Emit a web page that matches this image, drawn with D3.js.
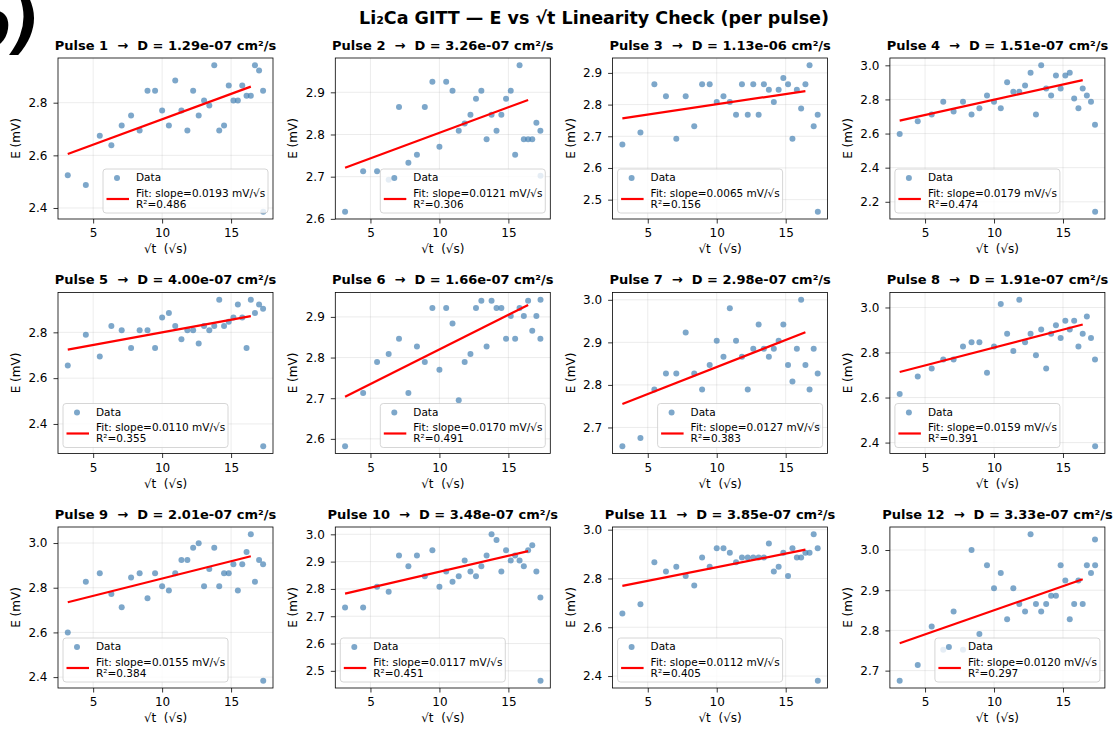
<!DOCTYPE html>
<html>
<head>
<meta charset="utf-8">
<script src="https://cdn.jsdelivr.net/npm/d3@7"></script>
<style>
  html, body { margin: 0; padding: 0; background: #fff; }
  svg { display: block; font-family: "DejaVu Sans", sans-serif; }
  text { white-space: pre; }
</style>
</head>
<body>
<svg id="chart" width="1118" height="730"></svg>
<script>
// ---- data -------------------------------------------------------------
const pulseNames = ["Pulse 1", "Pulse 2", "Pulse 3", "Pulse 4", "Pulse 5", "Pulse 6",
                    "Pulse 7", "Pulse 8", "Pulse 9", "Pulse 10", "Pulse 11", "Pulse 12"];

// square root of relaxation time, √s
const sqrtT = [3.16, 4.47, 5.48, 6.32, 7.07, 7.75, 8.37, 8.94, 9.49, 10.00, 10.49, 10.95,
               11.40, 11.83, 12.25, 12.65, 13.04, 13.42, 13.78, 14.14, 14.49, 14.83, 15.17,
               15.49, 15.81, 16.12, 16.43, 16.73, 17.03, 17.32, 17.33];

// potential E (mV) per pulse
const ePulse1 = [2.524, 2.487, 2.674, 2.638, 2.713, 2.751, 2.694, 2.845, 2.845, 2.770, 2.713, 2.884, 2.770, 2.694, 2.845, 2.751, 2.808, 2.789, 2.942, 2.694, 2.713, 2.865, 2.808, 2.808, 2.865, 2.826, 2.826, 2.942, 2.922, 2.845, 2.386];
const ePulse2 = [2.617, 2.713, 2.713, 2.693, 2.865, 2.733, 2.752, 2.865, 2.925, 2.771, 2.925, 2.904, 2.809, 2.826, 2.847, 2.885, 2.904, 2.789, 2.847, 2.809, 2.847, 2.885, 2.904, 2.752, 2.964, 2.789, 2.789, 2.789, 2.828, 2.809, 2.702];
const ePulse3 = [2.674, 2.712, 2.864, 2.826, 2.692, 2.826, 2.732, 2.864, 2.864, 2.808, 2.826, 2.808, 2.768, 2.864, 2.768, 2.864, 2.768, 2.864, 2.847, 2.808, 2.847, 2.884, 2.864, 2.692, 2.847, 2.788, 2.864, 2.924, 2.732, 2.768, 2.462];
const ePulse4 = [2.598, 2.672, 2.711, 2.786, 2.730, 2.786, 2.711, 2.748, 2.823, 2.786, 2.748, 2.901, 2.845, 2.845, 2.882, 2.957, 2.711, 3.000, 2.864, 2.823, 2.940, 2.864, 2.940, 2.957, 2.806, 2.748, 2.864, 2.823, 2.786, 2.652, 2.142];
const ePulse5 = [2.655, 2.790, 2.694, 2.828, 2.809, 2.732, 2.809, 2.809, 2.732, 2.865, 2.884, 2.828, 2.770, 2.809, 2.809, 2.751, 2.828, 2.809, 2.828, 2.942, 2.828, 2.846, 2.865, 2.922, 2.865, 2.732, 2.942, 2.884, 2.922, 2.903, 2.303];
const ePulse6 = [2.582, 2.713, 2.789, 2.809, 2.846, 2.713, 2.827, 2.789, 2.922, 2.770, 2.922, 2.884, 2.695, 2.789, 2.809, 2.922, 2.940, 2.827, 2.940, 2.922, 2.922, 2.846, 2.902, 2.846, 2.922, 2.902, 2.940, 2.866, 2.902, 2.846, 2.942];
const ePulse7 = [2.656, 2.675, 2.789, 2.827, 2.827, 2.923, 2.827, 2.789, 2.847, 2.904, 2.866, 2.980, 2.904, 2.866, 2.789, 2.885, 2.942, 2.885, 2.866, 2.885, 2.904, 2.942, 2.847, 2.808, 2.885, 3.000, 2.847, 2.789, 2.885, 2.827, 2.702];
const ePulse8 = [2.616, 2.693, 2.729, 2.769, 2.769, 2.827, 2.846, 2.846, 2.710, 2.827, 3.015, 2.883, 2.807, 3.034, 2.846, 2.883, 2.788, 2.902, 2.729, 2.883, 2.921, 2.864, 2.941, 2.902, 2.941, 2.827, 2.883, 2.960, 2.864, 2.769, 2.384];
const ePulse9 = [2.600, 2.827, 2.865, 2.772, 2.713, 2.846, 2.865, 2.753, 2.865, 2.807, 2.788, 2.865, 2.924, 2.924, 2.979, 2.999, 2.807, 2.884, 2.979, 2.807, 2.865, 2.865, 2.905, 2.788, 2.905, 2.960, 3.039, 2.827, 2.924, 2.905, 2.384];
const ePulse10 = [2.732, 2.732, 2.808, 2.790, 2.922, 2.883, 2.922, 2.846, 2.942, 2.808, 2.864, 2.826, 2.846, 2.904, 2.864, 2.846, 2.883, 2.922, 3.000, 2.979, 2.864, 2.942, 2.904, 2.922, 2.904, 2.883, 2.942, 2.960, 2.864, 2.769, 2.464];
const ePulse11 = [2.656, 2.694, 2.867, 2.829, 2.848, 2.810, 2.771, 2.886, 2.848, 2.924, 2.924, 2.905, 2.867, 2.886, 2.886, 2.886, 2.886, 2.886, 2.943, 2.829, 2.848, 2.905, 2.810, 2.924, 2.886, 2.886, 2.905, 2.905, 2.981, 2.924, 2.381];
const ePulse12 = [2.675, 2.714, 2.810, 2.752, 2.847, 2.752, 3.000, 2.791, 2.962, 2.905, 2.943, 2.828, 2.905, 2.866, 2.847, 3.039, 2.866, 2.847, 2.866, 2.886, 2.886, 2.962, 2.924, 2.828, 2.866, 2.924, 2.866, 2.962, 2.943, 3.026, 2.962];

// linear fit results per pulse
const fitSlopes     = [0.0193, 0.0121, 0.0065, 0.0179, 0.0110, 0.0170, 0.0127, 0.0159, 0.0155, 0.0117, 0.0112, 0.0120];
const fitIntercepts = [2.544, 2.683, 2.736, 2.619, 2.690, 2.650, 2.715, 2.663, 2.686, 2.746, 2.734, 2.730];
const fitR2         = [0.486, 0.306, 0.156, 0.474, 0.355, 0.491, 0.383, 0.391, 0.384, 0.451, 0.405, 0.297];
const fitPoints     = 27;   // fit uses the first 27 samples of each pulse

// chemical diffusion coefficient per pulse (cm²/s)
const diffusivity = [1.29e-7, 3.26e-7, 1.13e-6, 1.51e-7, 4.00e-7, 1.66e-7, 2.98e-7, 1.91e-7, 2.01e-7, 3.48e-7, 3.85e-7, 3.33e-7];

// tick values
const xTickValues = [5, 10, 15];
const yTickSteps  = [0.2, 0.1, 0.1, 0.2, 0.2, 0.1, 0.1, 0.2, 0.2, 0.1, 0.2, 0.1];

const voltages = [ePulse1, ePulse2, ePulse3, ePulse4, ePulse5, ePulse6,
                  ePulse7, ePulse8, ePulse9, ePulse10, ePulse11, ePulse12];

// ---- layout -----------------------------------------------------------
const svg = d3.select("#chart");
const W = 215, H = 161;
const colLeft = i => 58 + i * 277.3;
const rowTop  = j => 58 + j * 234.5;
const legendOnRight = [true, true, false, false, false, true, true, false, false, false, false, true];

const pointColor = "steelblue";
const fmtD = v => v.toExponential(2).replace(/e([+-])(\d)$/, "e$10$2");

// panel tag and figure title
svg.append("text")
  .attr("x", 40).attr("y", 47)
  .attr("text-anchor", "end")
  .attr("font-size", 64).attr("font-weight", "bold").attr("font-style", "italic")
  .text("b)");

svg.append("text")
  .attr("x", 594).attr("y", 23.5)
  .attr("text-anchor", "middle")
  .attr("font-size", 17.5).attr("font-weight", "bold")
  .text("Li₂Ca GITT — E vs √t Linearity Check (per pulse)");

voltages.forEach((E, idx) => {
  const col = idx % 4, row = Math.floor(idx / 4);
  const left = colLeft(col), top = rowTop(row);
  const g = svg.append("g").attr("transform", `translate(${left},${top})`);

  // auto limits with 5% margins
  const xExt = d3.extent(sqrtT), yExt = d3.extent(E);
  const xPad = (xExt[1] - xExt[0]) * 0.05, yPad = (yExt[1] - yExt[0]) * 0.05;
  const x = d3.scaleLinear().domain([xExt[0] - xPad, xExt[1] + xPad]).range([0, W]);
  const y = d3.scaleLinear().domain([yExt[0] - yPad, yExt[1] + yPad]).range([H, 0]);

  const step = yTickSteps[idx];
  const yTicks = d3.range(Math.ceil(y.domain()[0] / step - 1e-9), Math.floor(y.domain()[1] / step + 1e-9) + 1)
                   .map(k => +(k * step).toFixed(2));

  // grid
  const grid = g.append("g").attr("stroke", "#b0b0b0").attr("stroke-opacity", 0.3).attr("stroke-width", 0.8);
  xTickValues.forEach(t => grid.append("line").attr("x1", x(t)).attr("x2", x(t)).attr("y1", 0).attr("y2", H));
  yTicks.forEach(t => grid.append("line").attr("x1", 0).attr("x2", W).attr("y1", y(t)).attr("y2", y(t)));

  // scatter
  g.append("g").selectAll("circle")
    .data(sqrtT.map((t, i) => [t, E[i]]))
    .join("circle")
    .attr("cx", d => x(d[0])).attr("cy", d => y(d[1]))
    .attr("r", 3)
    .attr("fill", pointColor).attr("fill-opacity", 0.7);

  // fit line
  const xs = [sqrtT[0], sqrtT[fitPoints - 1]];
  g.append("line")
    .attr("x1", x(xs[0])).attr("y1", y(fitIntercepts[idx] + fitSlopes[idx] * xs[0]))
    .attr("x2", x(xs[1])).attr("y2", y(fitIntercepts[idx] + fitSlopes[idx] * xs[1]))
    .attr("stroke", "red").attr("stroke-width", 2.2);

  // axes
  const xAxis = d3.axisBottom(x).tickValues(xTickValues).tickFormat(d3.format("d")).tickSize(4.5).tickPadding(3.5);
  const yAxis = d3.axisLeft(y).tickValues(yTicks).tickFormat(d3.format(".1f")).tickSize(4.5).tickPadding(6);
  const gx = g.append("g").attr("transform", `translate(0,${H})`).call(xAxis);
  const gy = g.append("g").call(yAxis);
  [gx, gy].forEach(a => {
    a.select(".domain").remove();
    a.selectAll(".tick line").attr("stroke", "#000").attr("stroke-width", 0.8);
    a.selectAll(".tick text").attr("font-size", 12).attr("fill", "#000").attr("font-family", "DejaVu Sans");
  });
  gx.selectAll(".tick text").attr("dy", "0.85em");

  // legend
  const lw = 165, lh = 44;
  const lx = legendOnRight[idx] ? W - 5 - lw : 5;
  const ly = H - 6 - lh;
  const lg = g.append("g").attr("transform", `translate(${lx},${ly})`);
  lg.append("rect").attr("width", lw).attr("height", lh).attr("rx", 3)
    .attr("fill", "#fff").attr("fill-opacity", 0.8)
    .attr("stroke", "#cccccc").attr("stroke-width", 0.8);
  lg.append("circle").attr("cx", 14).attr("cy", 9).attr("r", 3)
    .attr("fill", pointColor).attr("fill-opacity", 0.7);
  lg.append("text").attr("x", 33).attr("y", 12.3).attr("font-size", 10.5).text("Data");
  lg.append("line").attr("x1", 3.5).attr("x2", 26).attr("y1", 30).attr("y2", 30)
    .attr("stroke", "red").attr("stroke-width", 2.2);
  lg.append("text").attr("x", 33).attr("y", 27.8).attr("font-size", 10.5)
    .text(`Fit: slope=${fitSlopes[idx].toFixed(4)} mV/√s`);
  lg.append("text").attr("x", 33).attr("y", 38.8).attr("font-size", 10.5)
    .text(`R²=${fitR2[idx].toFixed(3)}`);

  // frame
  g.append("rect").attr("width", W).attr("height", H)
    .attr("fill", "none").attr("stroke", "#000").attr("stroke-width", 0.8);

  // labels
  g.append("text")
    .attr("x", W / 2).attr("y", -8.5)
    .attr("text-anchor", "middle")
    .attr("font-size", 13).attr("font-weight", "bold")
    .text(`${pulseNames[idx]}  →  D = ${fmtD(diffusivity[idx])} cm²/s`);
  g.append("text")
    .attr("x", W / 2).attr("y", H + 34)
    .attr("text-anchor", "middle").attr("font-size", 12)
    .text("√t  (√s)");
  g.append("text")
    .attr("transform", `translate(-38,${H / 2}) rotate(-90)`)
    .attr("text-anchor", "middle").attr("font-size", 12)
    .text("E (mV)");
});
</script>
</body>
</html>
